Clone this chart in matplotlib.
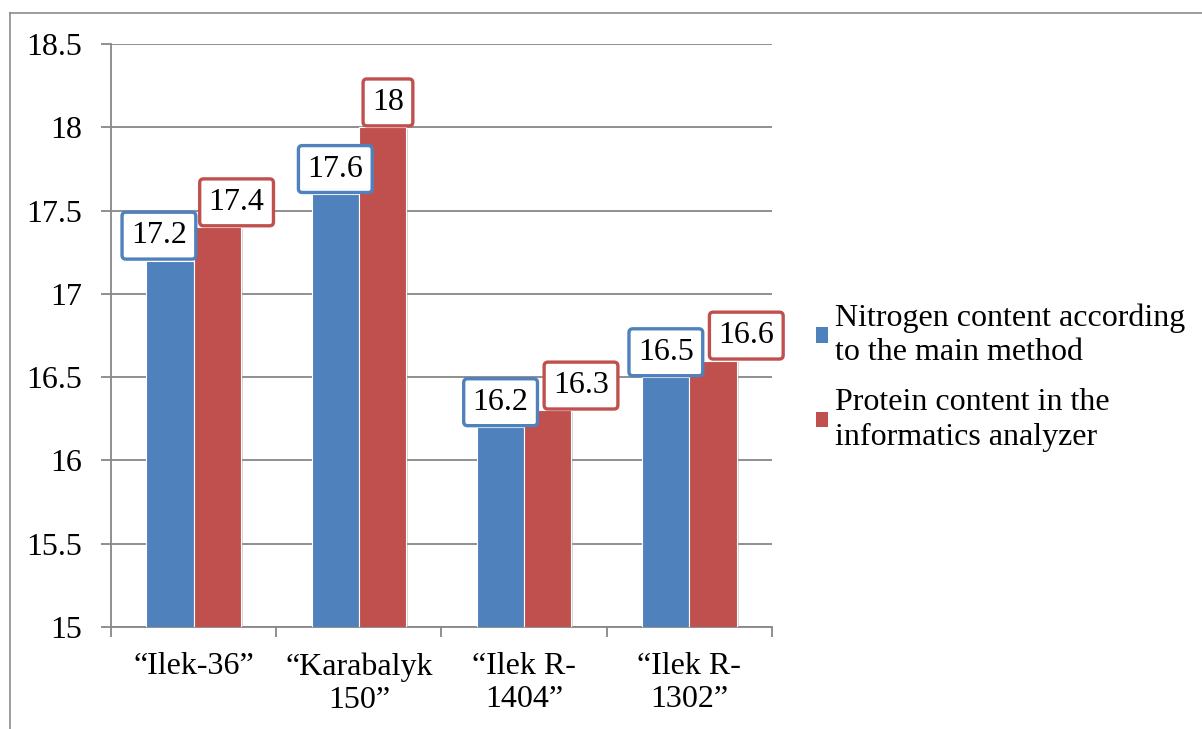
import matplotlib
matplotlib.use("Agg")
import matplotlib.pyplot as plt
import numpy as np
from matplotlib.lines import Line2D
from matplotlib.patches import Patch
import matplotlib.patheffects as pe

plt.rcParams['font.family'] = ['Liberation Serif', 'DejaVu Serif']

categories = ["“Ilek-36”", "“Karabalyk\n150”", "“Ilek R-\n1404”", "“Ilek R-\n1302”"]
series_names = ["Nitrogen content according\nto the main method",
                "Protein content in the\ninformatics analyzer"]
nitrogen = [17.2, 17.6, 16.2, 16.5]
protein = [17.4, 18.0, 16.3, 16.6]
yticks = [15, 15.5, 16, 16.5, 17, 17.5, 18, 18.5]

BLUE = "#4F81BD"
RED = "#C0504D"
GRID = "#878787"
FS = 23

fig = plt.figure(figsize=(12.02, 7.29), dpi=100)
ax = fig.add_axes([0.0923, 0.1399, 0.55, 0.7997])

# outer chart border (top and left edges visible)
fig.add_artist(Line2D([10 / 1202, 1.0], [1 - 13 / 729, 1 - 13 / 729],
                      transform=fig.transFigure, color="#8c8c8c", lw=1.2))
fig.add_artist(Line2D([10 / 1202, 10 / 1202], [0, 1 - 13 / 729],
                      transform=fig.transFigure, color="#8c8c8c", lw=1.2))

x = np.arange(len(categories))
w = 0.285
shadow = [pe.SimplePatchShadow(offset=(1.5, -1.0), shadow_rgbFace="#888888", alpha=0.35), pe.Normal()]
b1 = ax.bar(x - w / 2, nitrogen, w, bottom=0, color=BLUE, edgecolor="white", linewidth=0.8,
            zorder=3, path_effects=shadow)
b2 = ax.bar(x + w / 2, protein, w, bottom=0, color=RED, edgecolor="white", linewidth=0.8,
            zorder=3, path_effects=shadow)

ax.set_xlim(-0.5, len(categories) - 0.5)
ax.set_ylim(15, 18.5)
ax.set_yticks(yticks)
ax.set_yticklabels([f"{v:g}" for v in yticks], fontsize=FS)
ax.yaxis.grid(True, color=GRID, linewidth=1.3, zorder=0)
ax.set_axisbelow(True)

ax.set_xticks(x)
ax.set_xticklabels(categories, fontsize=FS, linespacing=1.2)
ax.set_xticks(np.arange(len(categories) + 1) - 0.5, minor=True)
ax.tick_params(axis="x", which="major", length=0, pad=18)
ax.tick_params(axis="x", which="minor", length=7, width=1.3, color=GRID, direction="out")
ax.tick_params(axis="y", length=7, width=1.3, color=GRID, direction="out", pad=14)

for side in ["top", "right"]:
    ax.spines[side].set_visible(False)
for side in ["left", "bottom"]:
    ax.spines[side].set_color(GRID)
    ax.spines[side].set_linewidth(1.3)

# data labels in framed boxes; horizontal nudges keep neighbouring boxes apart
shift_blue = [-8, 0, 0, 0]
shift_red = [14, 4, 24, 24]
for i in range(len(categories)):
    for vals, col, sh, off in ((nitrogen, BLUE, shift_blue, -w / 2), (protein, RED, shift_red, w / 2)):
        v = vals[i]
        ax.annotate(f"{v:g}", xy=(x[i] + off, v), xytext=(sh[i], 7.5), textcoords="offset points",
                    ha="center", va="bottom", fontsize=FS, zorder=6,
                    bbox=dict(boxstyle="round,pad=0.28,rounding_size=0.12", fc="white", ec=col, lw=2.4))

handles = [Patch(facecolor=BLUE, edgecolor="none"), Patch(facecolor=RED, edgecolor="none")]
fig.legend(handles, series_names, loc="center left", bbox_to_anchor=(0.655, 0.482),
           frameon=False, fontsize=FS, handlelength=0.38, handleheight=0.38,
           handletextpad=0.22, labelspacing=0.65)
for t in fig.legends[0].get_texts():
    t.set_linespacing(1.25)

fig.savefig("out.png", dpi=100)
